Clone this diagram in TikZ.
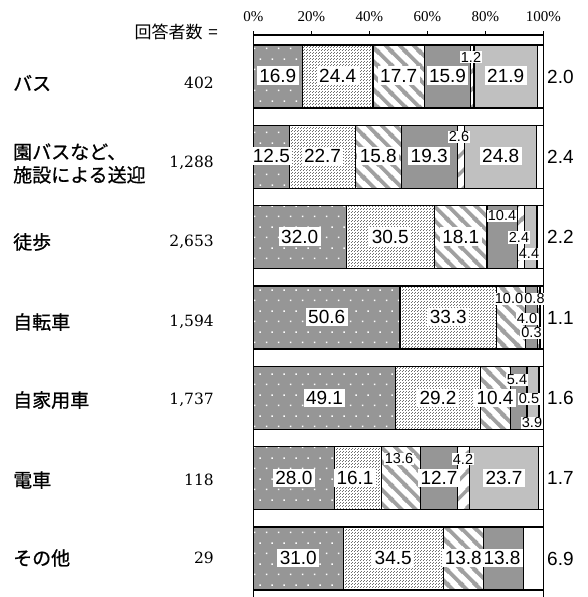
\documentclass[tikz,border=0pt]{standalone}
\usepackage{fontspec}
\setsansfont{Liberation Sans}
\newfontfamily\jpfont[FakeBold=0.8]{Noto Sans CJK JP}
\newfontfamily\jphfont{Noto Sans CJK JP}
\newfontfamily\cntfont{DejaVu Serif}
\newfontfamily\axfont{Liberation Serif}
\usetikzlibrary{patterns}
\definecolor{gA}{HTML}{969696}
\definecolor{gS}{HTML}{A0A0A0}
\definecolor{gL}{HTML}{C0C0C0}
\definecolor{gD}{HTML}{707070}
\pgfdeclarepatternformonly{wdots}{\pgfqpoint{0pt}{0pt}}{\pgfqpoint{12pt}{21pt}}{\pgfqpoint{12pt}{21pt}}{%
 \pgfpathrectangle{\pgfqpoint{2pt}{2pt}}{\pgfqpoint{1.6pt}{1.6pt}}%
 \pgfpathrectangle{\pgfqpoint{8pt}{12.5pt}}{\pgfqpoint{1.6pt}{1.6pt}}%
 \pgfusepath{fill}}
\pgfdeclarepatternformonly{fdots}{\pgfqpoint{0pt}{0pt}}{\pgfqpoint{3pt}{3pt}}{\pgfqpoint{3pt}{3pt}}{%
 \pgfpathrectangle{\pgfqpoint{0pt}{0pt}}{\pgfqpoint{1pt}{1pt}}%
 \pgfpathrectangle{\pgfqpoint{1.5pt}{1.5pt}}{\pgfqpoint{1pt}{1pt}}%
 \pgfusepath{fill}}
\pgfdeclarepatternformonly{bstripes}{\pgfqpoint{0pt}{0pt}}{\pgfqpoint{14pt}{14pt}}{\pgfqpoint{14pt}{14pt}}{%
 \pgfsetlinewidth{4pt}%
 \pgfpathmoveto{\pgfqpoint{-4pt}{4pt}}\pgfpathlineto{\pgfqpoint{4pt}{-4pt}}%
 \pgfpathmoveto{\pgfqpoint{-4pt}{18pt}}\pgfpathlineto{\pgfqpoint{18pt}{-4pt}}%
 \pgfpathmoveto{\pgfqpoint{10pt}{18pt}}\pgfpathlineto{\pgfqpoint{18pt}{10pt}}%
 \pgfusepath{stroke}}
\pgfdeclarepatternformonly{fstripes}{\pgfqpoint{0pt}{0pt}}{\pgfqpoint{18pt}{18pt}}{\pgfqpoint{18pt}{18pt}}{%
 \pgfsetlinewidth{3.5pt}%
 \pgfpathmoveto{\pgfqpoint{-4pt}{-4pt}}\pgfpathlineto{\pgfqpoint{22pt}{22pt}}%
 \pgfpathmoveto{\pgfqpoint{14pt}{-4pt}}\pgfpathlineto{\pgfqpoint{22pt}{4pt}}%
 \pgfpathmoveto{\pgfqpoint{-4pt}{14pt}}\pgfpathlineto{\pgfqpoint{4pt}{22pt}}%
 \pgfusepath{stroke}}
\tikzset{
 seg/.style={draw=black,line width=1.2pt},
 seg1/.style={seg,preaction={fill=gA},pattern=wdots,pattern color=white},
 seg2/.style={seg,preaction={fill=white},pattern=fdots,pattern color=gD},
 seg3/.style={seg,preaction={fill=white},pattern=bstripes,pattern color=gS},
 seg4/.style={seg,fill=gA},
 seg5/.style={seg,preaction={fill=white},pattern=fstripes,pattern color=gS},
 seg6/.style={seg,fill=gL},
 seg7/.style={seg,fill=white},
 big/.style={fill=white,inner xsep=2.5pt,inner ysep=2.5pt,font=\sffamily\fontsize{19}{19}\selectfont},
 small/.style={fill=white,inner xsep=1pt,inner ysep=1pt,font=\sffamily\fontsize{14.5}{14.5}\selectfont},
 rlab/.style={anchor=west,inner sep=0pt,font=\sffamily\fontsize{19}{19}\selectfont},
 cat/.style={anchor=west,inner sep=0pt,align=left,font=\jpfont\fontsize{19}{23}\selectfont},
 cnt/.style={anchor=east,inner sep=0pt,font=\cntfont\fontsize{15.5}{15.5}\selectfont},
 axl/.style={inner sep=0pt,font=\axfont\fontsize{15}{15}\selectfont},
}
\begin{document}
\begin{tikzpicture}[x=1pt,y=-1pt]
\useasboundingbox (0,0) rectangle (587,597);
% frame and ticks
\draw[line width=1.1pt] (253.3,600) -- (253.3,35) -- (543.3,35) -- (543.3,600);
\foreach \i in {0,...,5} {
  \draw[line width=1pt] ({253.3+58*\i},35) -- ({253.3+58*\i},31);
  \pgfmathtruncatemacro\pc{20*\i}
  \node[axl] (ax\i) at ({253.3+58*\i},17) {\pc\%};
}
% bars
\foreach \row/\vals in {0/{16.9,24.4,17.7,15.9,1.2,21.9,2.0},
                        1/{12.5,22.7,15.8,19.3,2.6,24.8,2.4},
                        2/{32.0,30.5,18.1,10.4,2.4,4.4,2.2},
                        3/{50.6,33.3,10.0,4.0,0.8,0.3,1.1},
                        4/{49.1,29.2,10.4,5.4,0.5,3.9,1.6},
                        5/{28.0,16.1,13.6,12.7,4.2,23.7,1.7},
                        6/{31.0,34.5,13.8,13.8,0,0,6.9}} {
  \pgfmathsetmacro\ytop{45+80.33*\row}
  \xdef\cum{0}
  \foreach \v [count=\k] in \vals {
    \pgfmathsetmacro\xa{253.3+2.9*\cum}
    \pgfmathsetmacro\xb{min(543.3,253.3+2.9*(\cum+\v))}
    \pgfmathparse{\v>0 ? 1 : 0}
    \ifnum\pgfmathresult=1
      \draw[seg\k] (\xa,\ytop) rectangle (\xb,\ytop+63);
    \fi
    \pgfmathsetmacro\nc{\cum+\v}
    \xdef\cum{\nc}
  }
}
% row labels
\node[anchor=east,inner sep=0pt,font=\jphfont\fontsize{17}{17}\selectfont] (hdr) at (218,32) {回答者数 \hspace{2pt}=};
\node[cat] (c0) at (13,83) {バス};
\node[cat] (c1) at (13,163.5) {園バスなど、\\施設による送迎};
\node[cat] (c2) at (13,242) {徒歩};
\node[cat] (c3) at (13,322) {自転車};
\node[cat] (c4) at (13,400) {自家用車};
\node[cat] (c5) at (13,480) {電車};
\node[cat] (c6) at (13,558) {その他};
\node[cnt] (n0) at (214,83) {402};
\node[cnt] (n1) at (214,163) {1,288};
\node[cnt] (n2) at (214,242) {2,653};
\node[cnt] (n3) at (214,322) {1,594};
\node[cnt] (n4) at (214,400) {1,737};
\node[cnt] (n5) at (214,480) {118};
\node[cnt] (n6) at (214,558) {29};
% data labels row 0
\node[big] (a01) at (277.8,75.5) {16.9};
\node[big] (a02) at (337.7,75.5) {24.4};
\node[big] (a03) at (398.7,75.5) {17.7};
\node[big] (a04) at (447.5,75.5) {15.9};
\node[small] (a05) at (471,57) {1.2};
\node[big] (a06) at (505.7,75.5) {21.9};
\node[rlab] (a07) at (547,76.5) {2.0};
% row 1
\node[big] (a11) at (271.4,156) {12.5};
\node[big] (a12) at (322.5,156) {22.7};
\node[big] (a13) at (378.3,156) {15.8};
\node[big] (a14) at (429.2,156) {19.3};
\node[small] (a15) at (459,137) {2.6};
\node[big] (a16) at (500.7,156) {24.8};
\node[rlab] (a17) at (547,157) {2.4};
% row 2
\node[big] (a21) at (299.7,236.5) {32.0};
\node[big] (a22) at (390.3,236.5) {30.5};
\node[big] (a23) at (460.8,236.5) {18.1};
\node[small] (a24) at (502,216) {10.4};
\node[small] (a25) at (519,237.5) {2.4};
\node[small] (a26) at (529,254) {4.4};
\node[rlab] (a27) at (547,237) {2.2};
% row 3
\node[big] (a31) at (326.7,317) {50.6};
\node[big] (a32) at (448.3,317) {33.3};
\node[small] (a33) at (509,299) {10.0};
\node[small] (a35) at (534.5,299) {0.8};
\node[small] (a34) at (527,319) {4.0};
\node[small] (a36) at (531.5,333) {0.3};
\node[rlab] (a37) at (547,318) {1.1};
% row 4
\node[big] (a41) at (324.5,398) {49.1};
\node[big] (a42) at (438,398) {29.2};
\node[big] (a43) at (495,398) {10.4};
\node[small] (a44) at (517,380) {5.4};
\node[small] (a45) at (529,399) {0.5};
\node[small] (a46) at (532,423) {3.9};
\node[rlab] (a47) at (547,398) {1.6};
% row 5
\node[big] (a51) at (293.9,478) {28.0};
\node[big] (a52) at (355,478) {16.1};
\node[small] (a53) at (399,459) {13.6};
\node[big] (a54) at (439,478) {12.7};
\node[small] (a55) at (463,459) {4.2};
\node[big] (a56) at (504,478) {23.7};
\node[rlab] (a57) at (547,478) {1.7};
% row 6
\node[big] (a61) at (298.3,558) {31.0};
\node[big] (a62) at (393.2,558) {34.5};
\node[big] (a63) at (463.3,558) {13.8};
\node[big] (a64) at (502,558) {13.8};
\node[rlab] (a67) at (547,558.5) {6.9};
\end{tikzpicture}
\end{document}
